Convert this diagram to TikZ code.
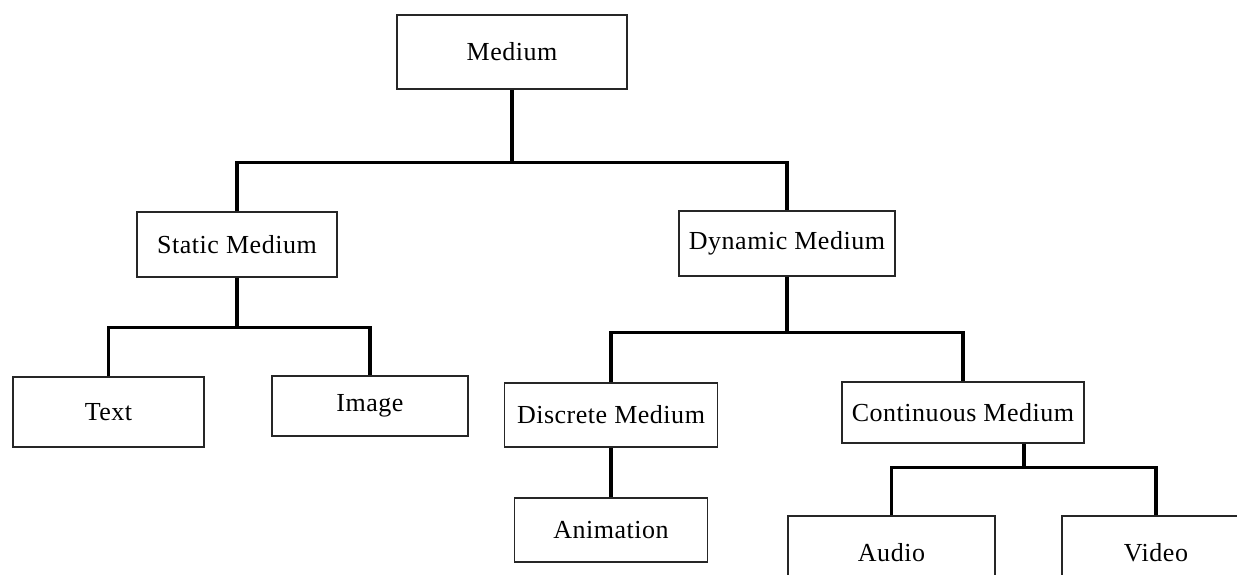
\documentclass[tikz,border=0pt]{standalone}
\usepackage{fontspec}
\setmainfont[LetterSpace=2]{Liberation Serif}
\begin{document}
\begin{tikzpicture}[x=1pt, y=-1pt,
  box/.style={draw=black!85, line width=1.5pt, rectangle, inner sep=0pt,
    font=\fontsize{26}{30}\selectfont},
  conn/.style={draw=black, line width=3.2pt, line join=miter}]
\useasboundingbox (0,0) rectangle (1237,575);
\clip (0,0) rectangle (1237,575);

% nodes of the hierarchy
\node[box, minimum width=230pt, minimum height=74pt] (medium)     at (512,52)    {Medium};
\node[box, minimum width=200pt, minimum height=65pt] (static)     at (237,244.5) {Static Medium};
\node[box, minimum width=216pt, minimum height=65pt] (dynamic)    at (787,243.5) {Dynamic Medium};
\node[box, minimum width=191pt, minimum height=70pt] (text)       at (108.5,412) {Text};
\node[box, minimum width=196pt, minimum height=60pt] (image)      at (370,406)   {Image};
\node[box, minimum width=213pt, minimum height=64pt] (discrete)   at (611,415)   {Discrete Medium};
\node[box, minimum width=242pt, minimum height=61pt] (continuous) at (963,412.5) {Continuous Medium};
\node[box, minimum width=193pt, minimum height=64pt] (animation)  at (611,530)   {Animation};
\node[box, minimum width=207pt, minimum height=74pt] (audio)      at (891.5,553) {Audio};
\node[box, minimum width=188pt, minimum height=74pt] (video)      at (1156,553)  {Video};

% branching connectors
\draw[conn] (medium.south) -- ++(0,73) coordinate (b1);
\draw[conn] (static.north) |- (b1) -| (dynamic.north);

\draw[conn] (static.south) -- ++(0,50) coordinate (b2);
\draw[conn] (text.north) |- (b2) -| (image.north);

\draw[conn] (dynamic.south) -- ++(0,56) coordinate (b3);
\draw[conn] (discrete.north) |- (b3) -| (continuous.north);

\draw[conn] (discrete.south) -- (animation.north);

\draw[conn] ([xshift=61pt]continuous.south) -- ++(0,24) coordinate (b4);
\draw[conn] (audio.north) |- (b4) -| (video.north);
\end{tikzpicture}
\end{document}
